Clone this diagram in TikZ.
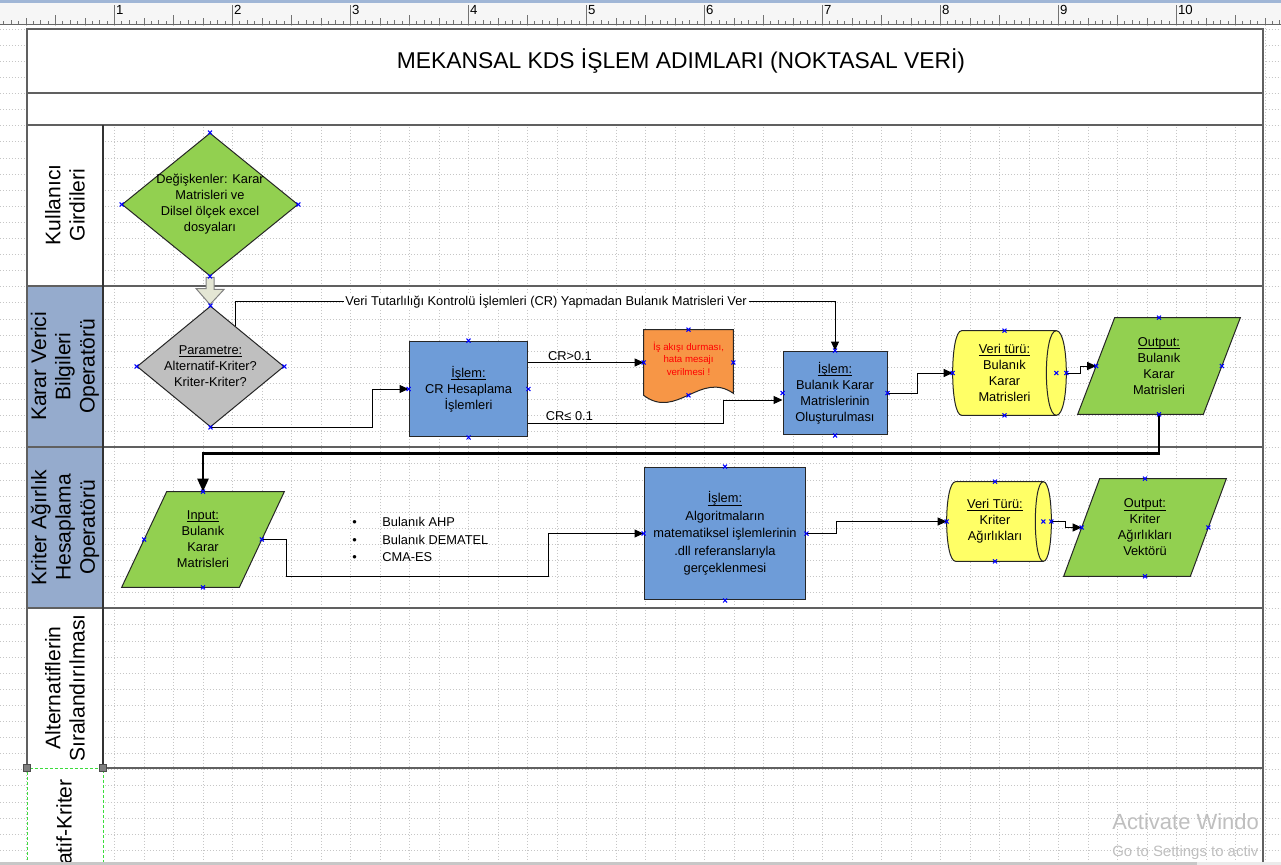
\documentclass[tikz,border=0pt]{standalone}
\usepackage{fontspec}
\setmainfont{Liberation Sans}
\usetikzlibrary{
  arrows.meta,
  calc,
  shapes.geometric
}
\definecolor{LeafGreen}{RGB}{146,208,80}
\definecolor{StoneGray}{RGB}{191,191,191}
\definecolor{StepBlue}{RGB}{110,156,216}
\definecolor{AlertOrange}{RGB}{247,150,70}
\definecolor{StoreYellow}{RGB}{255,255,102}
\definecolor{LaneBlue}{RGB}{149,171,205}
\definecolor{FrameGray}{RGB}{96,96,96}
\definecolor{GridGray}{RGB}{198,198,198}
\definecolor{RulerBack}{RGB}{246,246,246}
\definecolor{RulerBlue}{RGB}{160,182,214}
\definecolor{ArrowBeige}{RGB}{228,230,212}
\definecolor{SelectGreen}{RGB}{60,220,60}
\tikzset{
  nodetext/.style={font=\fontsize{7.3}{9.1}\selectfont,align=center,inner sep=0pt},
  decision/.style={nodetext,diamond,draw=black!85,line width=0.02cm,inner sep=-5pt},
  stepbox/.style={nodetext,rectangle,draw=black!85,line width=0.02cm,fill=StepBlue},
  framebox/.style={rectangle,inner sep=0pt},
  ioshape/.style={draw=black!85,line width=0.02cm,fill=LeafGreen},
  storeshape/.style={draw=black!85,line width=0.02cm,fill=StoreYellow},
  shapeline/.style={draw=black!85,line width=0.02cm},
  alerttext/.style={align=center,inner sep=0pt,text=red,font=\fontsize{5.5}{7.1}\selectfont},
  lanelabel/.style={rotate=90,align=center,inner sep=0pt,font=\fontsize{12}{13.8}\selectfont},
  flow/.style={-{Triangle[length=1.8mm,width=1.6mm]},line width=0.02cm,draw=black},
  bigflow/.style={-{Triangle[length=2.6mm,width=2.2mm]},line width=0.05cm,draw=black},
  flowlabel/.style={font=\fontsize{7.3}{9}\selectfont,inner sep=1pt},
  laneline/.style={draw=FrameGray,line width=0.04cm},
  gridline/.style={draw=GridGray,line width=0.3pt,dash pattern=on 0.02cm off 0.04cm},
  cptmark/.style={draw=blue,line width=0.6pt},
  rulertick/.style={draw=black!55,line width=0.3pt},
  rulernum/.style={anchor=north west,inner sep=0pt,font=\fontsize{7.5}{8}\selectfont}
}
\newsavebox\hdrbox
\newcommand\hdr[1]{\sbox\hdrbox{#1}\rlap{\rule[-1.3pt]{\wd\hdrbox}{0.4pt}}\usebox\hdrbox}
\newcommand\cpt[1]{\draw[cptmark] (#1) +(-2,-2) -- +(2,2) +(-2,2) -- +(2,-2);}

\begin{document}
\begin{tikzpicture}[x=0.02cm,y=-0.02cm]
\clip (0,0) rectangle (1281,865);
\fill[white] (0,0) rectangle (1281,865);

% Page grid.
\foreach \gx in {1,...,43} \draw[gridline] (-3.7+29.5*\gx,25) -- ++(0,840);
\foreach \gy in {0,...,51} \draw[gridline] (0,29+16.1*\gy) -- ++(1281,0);

% Ruler.
\fill[RulerBack] (0,0) rectangle (1281,24);
\fill[RulerBlue] (0,0) rectangle (1281,3);
\foreach \k in {1,...,175}{
  \pgfmathsetmacro\tk{mod(\k,16)==0 ? 19 : (mod(\k,8)==0 ? 9 : (mod(\k,4)==0 ? 6 : (mod(\k,2)==0 ? 4 : 2.5)))}
  \draw[rulertick] (-3.7+7.375*\k,24) -- ++(0,-\tk);
}
\draw[black!60] (0,24) -- (1281,24);
\foreach \n in {1,...,10} \node[rulernum] (mark\n) at (-2.2+118*\n,5) {\n};

% Pool and lanes.
\fill[white] (27,29) rectangle (1263,125);
\fill[white] (27,125) rectangle (103,286);
\fill[LaneBlue] (27,286) rectangle (103,608);
\fill[white] (27,608) rectangle (103,870);
\draw[laneline] (27,768) -- (27,29) -- (1263,29) -- (1263,870);
\foreach \ly in {93,125,286,447,608} \draw[laneline] (27,\ly) -- (1263,\ly);
\draw[laneline] (103,768) -- (1263,768);
\draw[black!80,line width=0.025cm] (103,125) -- (103,768);
\draw[SelectGreen,line width=0.02cm,dash pattern=on 0.06cm off 0.04cm] (27,870) -- (27,768) -- (103,768) -- (103,870);
\foreach \hx in {27,103} \filldraw[fill=gray,draw=black!70] (\hx-3.5,764.5) rectangle ++(7,7);

\node[font=\fontsize{13}{15}\selectfont] (title) at (681,61) {MEKANSAL KDS İŞLEM ADIMLARI (NOKTASAL VERİ)};
\node[lanelabel] (lane1) at (65,205) {Kullanıcı\\Girdileri};
\node[lanelabel] (lane2) at (65,366.5) {Karar Verici\\Bilgileri\\Operatörü};
\node[lanelabel] (lane3) at (65,527.5) {Kriter Ağırlık\\Hesaplama\\Operatörü};
\node[lanelabel] (lane4) at (65,688) {Alternatiflerin\\Sıralandırılması};
\node[lanelabel,anchor=east] (lane5) at (64,779) {atif-Kriter};

% Decision maker lane.
\node[decision,fill=LeafGreen,aspect=1.23,minimum width=3.52cm,minimum height=2.86cm] (vars) at (210,204.5) {Değişkenler: Karar\\Matrisleri ve\\Dilsel ölçek excel\\dosyaları};
\node[decision,fill=StoneGray,aspect=1.2,minimum width=2.94cm,minimum height=2.42cm] (param) at (210.5,366.5) {\hdr{Parametre:}\\Alternatif-Kriter?\\Kriter-Kriter?};
\filldraw[fill=ArrowBeige,draw=black!50,line width=0.02cm] ($(vars.south)+(-4,1)$) -- ++(8,0) -- ++(0,12) -- ++(10,0) -- ($(param.north)+(-0.5,-1)$) -- ++(-14,-16) -- ++(10,0) -- cycle;

\node[stepbox,minimum width=2.38cm,minimum height=1.92cm] (crcalc) at (468.5,389) {\hdr{İşlem:}\\CR Hesaplama\\İşlemleri};
\node[framebox,minimum width=1.78cm,minimum height=1.3cm] (err) at (688.5,362.5) {};
\draw[shapeline,fill=AlertOrange] (err.south west) -- (err.north west) -- (err.north east) -- ($(err.south east)+(0,-2)$) .. controls +(-33,-23) and +(33,25) .. (err.south west) -- cycle;
\node[alerttext] (errtext) at ($(err.center)+(0,-4)$) {İş akışı durması,\\hata mesajı\\verilmesi !};
\node[stepbox,minimum width=2.08cm,minimum height=1.68cm] (fuzzymat) at (835,393) {\hdr{İşlem:}\\Bulanık Karar\\Matrislerinin\\Oluşturulması};

\node[framebox,minimum width=2.06cm,minimum height=1.68cm] (fuzzystore) at (1004.5,373) {};
\draw[storeshape] ($(fuzzystore.north west)+(9,0)$) -- (fuzzystore.north east) .. controls +(13.3,0) and +(13.3,0) .. (fuzzystore.south east) -- ($(fuzzystore.south west)+(9,0)$) .. controls +(-12,0) and +(-12,0) .. ($(fuzzystore.north west)+(9,0)$) -- cycle;
\draw[shapeline] (fuzzystore.north east) .. controls +(-13.3,0) and +(-13.3,0) .. (fuzzystore.south east);
\node[nodetext] (fuzzystoretext) at (fuzzystore.center) {\hdr{Veri türü:}\\Bulanık\\Karar\\Matrisleri};
\coordinate (fuzzystoreout) at ($(fuzzystore.east)+(10,0)$);

\node[framebox,minimum width=3.24cm,minimum height=1.92cm] (fuzzyout) at (1159,366) {};
\draw[ioshape] (fuzzyout.south west) -- ($(fuzzyout.north west)+(37,0)$) -- (fuzzyout.north east) -- ($(fuzzyout.south east)+(-37,0)$) -- cycle;
\node[nodetext] (fuzzyouttext) at (fuzzyout.center) {\hdr{Output:}\\Bulanık\\Karar\\Matrisleri};
\coordinate (fuzzyoutin) at ($(fuzzyout.west)+(18.5,0)$);
\coordinate (fuzzyoutright) at ($(fuzzyout.east)+(-18.5,0)$);

% Criteria weight lane.
\node[framebox,minimum width=3.24cm,minimum height=1.9cm] (fuzzyin) at (203,539.5) {};
\draw[ioshape] (fuzzyin.south west) -- ($(fuzzyin.north west)+(45,0)$) -- (fuzzyin.north east) -- ($(fuzzyin.south east)+(-45,0)$) -- cycle;
\node[nodetext] (fuzzyintext) at (fuzzyin.center) {\hdr{Input:}\\Bulanık\\Karar\\Matrisleri};
\coordinate (fuzzyinleft) at ($(fuzzyin.west)+(22.5,0)$);
\coordinate (fuzzyinout) at ($(fuzzyin.east)+(-22.5,0)$);

\node[anchor=west,align=left,inner sep=0pt,font=\fontsize{7.3}{9.9}\selectfont] (methods) at (352,539.5) {\makebox[0.6cm][l]{\textbullet}Bulanık AHP\\\makebox[0.6cm][l]{\textbullet}Bulanık DEMATEL\\\makebox[0.6cm][l]{\textbullet}CMA-ES};
\node[stepbox,minimum width=3.24cm,minimum height=2.66cm,font=\fontsize{7.3}{9.9}\selectfont] (algo) at (725,533.5) {\hdr{İşlem:}\\Algoritmaların\\matematiksel işlemlerinin\\.dll referanslarıyla\\gerçeklenmesi};

\node[framebox,minimum width=1.92cm,minimum height=1.58cm] (weightstore) at (995,521.5) {};
\draw[storeshape] ($(weightstore.north west)+(9,0)$) -- (weightstore.north east) .. controls +(10.7,0) and +(10.7,0) .. (weightstore.south east) -- ($(weightstore.south west)+(9,0)$) .. controls +(-12,0) and +(-12,0) .. ($(weightstore.north west)+(9,0)$) -- cycle;
\draw[shapeline] (weightstore.north east) .. controls +(-10.7,0) and +(-10.7,0) .. (weightstore.south east);
\node[nodetext] (weightstoretext) at (weightstore.center) {\hdr{Veri Türü:}\\Kriter\\Ağırlıkları};
\coordinate (weightstoreout) at ($(weightstore.east)+(8,0)$);

\node[framebox,minimum width=3.24cm,minimum height=1.94cm] (weightout) at (1145,527.5) {};
\draw[ioshape] (weightout.south west) -- ($(weightout.north west)+(36,0)$) -- (weightout.north east) -- ($(weightout.south east)+(-36,0)$) -- cycle;
\node[nodetext] (weightouttext) at (weightout.center) {\hdr{Output:}\\Kriter\\Ağırlıkları\\Vektörü};
\coordinate (weightoutin) at ($(weightout.west)+(18,0)$);
\coordinate (weightoutright) at ($(weightout.east)+(-18,0)$);

% Connectors.
\draw[flow] (param.south) -- ++(162,0) |- (crcalc.west);
\draw[flow] (param.58) |- node[pos=0.759,flowlabel,fill=white] {Veri Tutarlılığı Kontrolü İşlemleri (CR) Yapmadan Bulanık Matrisleri Ver} ([yshift=0.98cm]fuzzymat.north) -- (fuzzymat.north);
\draw[flow] (crcalc.east |- err.west) -- node[pos=0.36,above,flowlabel] {CR>0.1} (err.west);
\draw[flow] ($(crcalc.east)+(0,34)$) -- node[pos=0.21,above,flowlabel] {CR≤ 0.1} ++(195,0) |- ($(fuzzymat.west)+(0,7)$);
\draw[flow] (fuzzymat.east) -- ++(30,0) |- (fuzzystore.west);
\draw[flow] (fuzzystoreout) -- ++(14,0) |- (fuzzyoutin);
\draw[bigflow] (fuzzyout.south) -- ++(0,39) -| (fuzzyin.north);
\draw[flow] (fuzzyinout) -- ++(25,0) -- ++(0,37) -- ++(262,0) |- (algo.west);
\draw[flow] (algo.east) -- ++(30,0) |- (weightstore.west);
\draw[flow] (weightstoreout) -- ++(14,0) |- (weightoutin);

% Connection points.
\foreach \p in {vars.north,vars.south,vars.east,vars.west,
  param.north,param.south,param.east,param.west,
  crcalc.north,crcalc.south,crcalc.east,crcalc.west,
  err.north,err.south,err.east,err.west,
  fuzzymat.north,fuzzymat.south,fuzzymat.east,fuzzymat.west,
  fuzzystore.north,fuzzystore.south,fuzzystore.east,fuzzystore.west,fuzzystoreout,
  fuzzyout.north,fuzzyout.south,fuzzyoutin,fuzzyoutright,
  fuzzyin.north,fuzzyin.south,fuzzyinleft,fuzzyinout,
  algo.north,algo.south,algo.east,algo.west,
  weightstore.north,weightstore.south,weightstore.east,weightstore.west,weightstoreout,
  weightout.north,weightout.south,weightoutin,weightoutright}
  \cpt{\p};

% Screen overlay.
\node[anchor=base west,inner sep=0pt,text=black!25,font=\fontsize{12.5}{15}\selectfont] (winmark) at (1112,829) {Activate Windo};
\node[anchor=base west,inner sep=0pt,text=black!25,font=\fontsize{8.5}{10}\selectfont] (winhint) at (1112,856) {Go to Settings to activ};
\fill[black!22] (0,862) rectangle (1197,865);
\fill[black!8] (1197,862) rectangle (1281,865);
\end{tikzpicture}
\end{document}
